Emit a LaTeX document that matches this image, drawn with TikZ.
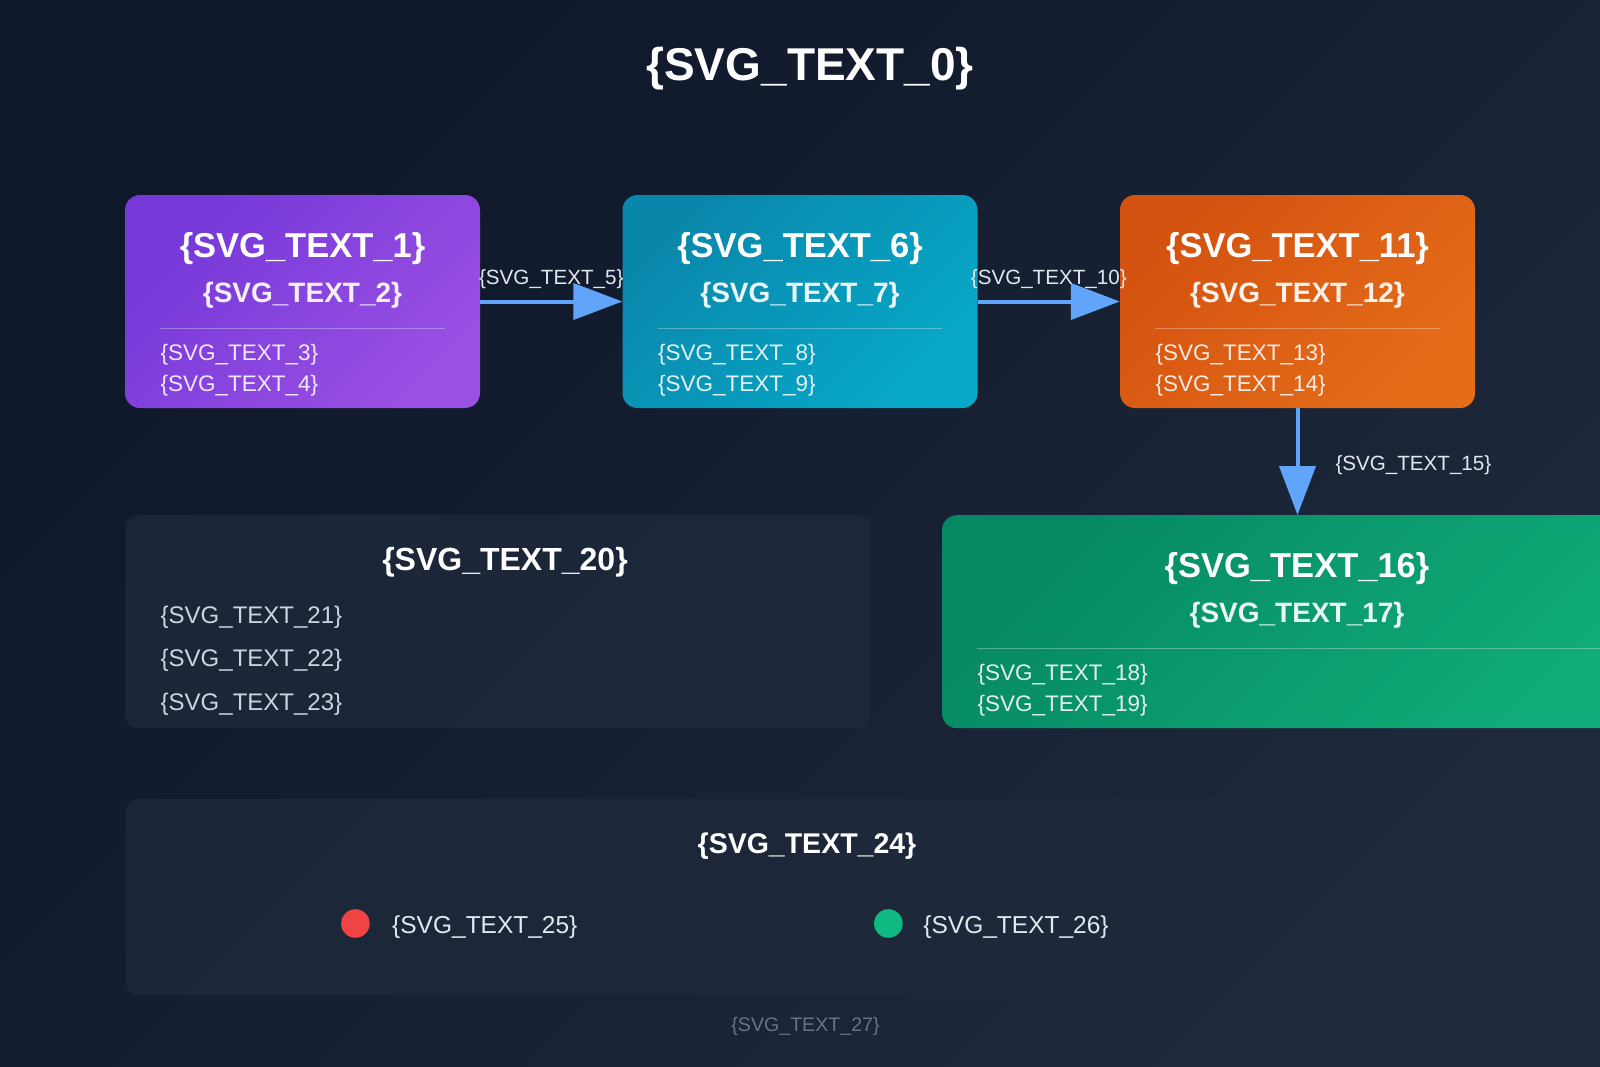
\documentclass[tikz,border=0pt]{standalone}
\usepackage{fontspec}
\setmainfont{Liberation Sans}
\usetikzlibrary{arrows.meta}
\usetikzlibrary{calc}

\definecolor{bgA}{HTML}{0F172A}
\definecolor{bgB}{HTML}{1E293B}
\definecolor{panel}{HTML}{1E293B}
\definecolor{violetA}{HTML}{7538D9}
\definecolor{violetB}{HTML}{9A50E3}
\definecolor{tealA}{HTML}{0987AB}
\definecolor{tealB}{HTML}{08A8C8}
\definecolor{orangeA}{HTML}{D4520F}
\definecolor{orangeB}{HTML}{E56D1A}
\definecolor{greenA}{HTML}{068963}
\definecolor{greenB}{HTML}{10AC79}
\definecolor{flowblue}{HTML}{60A5FA}
\definecolor{softtext}{HTML}{E2E8F0}
\definecolor{mutedtext}{HTML}{CBD5E1}
\definecolor{foot}{HTML}{64748B}
\definecolor{dotred}{HTML}{EF4444}
\definecolor{dotgreen}{HTML}{10B981}

\begin{document}
\begin{tikzpicture}[x=1pt,y=-1pt,
	card/.style={rounded corners=15pt,minimum height=213pt,inner sep=0pt},
	panelbox/.style={rounded corners=12pt,fill=panel,fill opacity=0.8,inner sep=0pt},
	heading/.style={text=white,inner sep=0pt,yshift=-2pt},
	cardtitle/.style={heading,font=\bfseries\fontsize{34.5}{40}\selectfont},
	cardsub/.style={heading,text opacity=0.92,font=\bfseries\fontsize{28}{33}\selectfont},
	carditem/.style={heading,text opacity=0.88,font=\fontsize{22.5}{27}\selectfont,anchor=west},
	divider/.style={draw=white,draw opacity=0.3,line width=1.5pt},
	flow/.style={draw=flowblue,line width=4pt,-{Triangle[length=49pt,width=36pt]}},
	flowlabel/.style={text=softtext,font=\fontsize{20.6}{24}\selectfont,inner sep=0pt},
	panelitem/.style={heading,text=mutedtext,font=\fontsize{24}{28}\selectfont,anchor=west},
	legenditem/.style={heading,text=softtext,font=\fontsize{24.5}{29}\selectfont,anchor=west},
	dot/.style={circle,minimum size=28.6pt,inner sep=0pt}
	]
	% background
	\shade[top color=bgA,bottom color=bgB,shading angle=45] (0,0) rectangle (1600,1066);
	\clip (0,0) rectangle (1600,1066);

	\node[heading,font=\bfseries\fontsize{46}{54}\selectfont] (title) at (810,67) {\{SVG\_TEXT\_0\}};

	% cards
	\foreach \card/\cx/\cy/\cw/\ca/\cb/\ta/\tb/\tc/\td in {
		purple/302.5/301.5/355/violetA/violetB/1/2/3/4,
		teal/800/301.5/355/tealA/tealB/6/7/8/9,
		orange/1297.5/301.5/355/orangeA/orangeB/11/12/13/14,
		green/1297/621.7/710/greenA/greenB/16/17/18/19}{
		\node[card,minimum width=\cw pt,top color=\ca,bottom color=\cb,shading angle=45] (\card) at (\cx,\cy) {};
		\node[cardtitle] (\card-title) at ($(\card.north)+(0,51.5)$) {\{SVG\_TEXT\_\ta\}};
		\node[cardsub] (\card-sub) at ($(\card.north)+(0,98)$) {\{SVG\_TEXT\_\tb\}};
		\draw[divider] ($(\card.north west)+(35.5,133.5)$) -- ($(\card.north east)+(-35.5,133.5)$);
		\node[carditem] (\card-a) at ($(\card.north west)+(35.5,158)$) {\{SVG\_TEXT\_\tc\}};
		\node[carditem] (\card-b) at ($(\card.north west)+(35.5,188.5)$) {\{SVG\_TEXT\_\td\}};
	}

	% flows
	\draw[flow] (purple) -- node[flowlabel,yshift=22.5pt] (flow-a) {\{SVG\_TEXT\_5\}} (teal);
	\draw[flow] (teal) -- node[flowlabel,yshift=22.5pt] (flow-b) {\{SVG\_TEXT\_10\}} (orange);
	\draw[flow] (orange.south) -- node[flowlabel,anchor=west,xshift=36pt,yshift=-4pt] (flow-c) {\{SVG\_TEXT\_15\}} (orange.south |- green.north);

	% notes panel
	\node[panelbox,minimum width=745pt,minimum height=213pt] (notes) at (498,621.7) {};
	\node[heading,font=\bfseries\fontsize{32}{38}\selectfont] (notes-title) at (505,560) {\{SVG\_TEXT\_20\}};
	\node[panelitem] (notes-a) at (160.5,615) {\{SVG\_TEXT\_21\}};
	\node[panelitem] (notes-b) at (160.5,658) {\{SVG\_TEXT\_22\}};
	\node[panelitem] (notes-c) at (160.5,702) {\{SVG\_TEXT\_23\}};

	% legend
	\node[panelbox,minimum width=1348pt,minimum height=196pt] (legend) at (800,897) {};
	\node[heading,font=\bfseries\fontsize{28.5}{34}\selectfont] (legend-title) at (807,844.5) {\{SVG\_TEXT\_24\}};
	\node[dot,fill=dotred] (dot-red) at (355.4,923.5) {};
	\node[legenditem] (legend-red) at (392,925) {\{SVG\_TEXT\_25\}};
	\node[dot,fill=dotgreen] (dot-green) at (888.4,923.5) {};
	\node[legenditem] (legend-green) at (923.2,925) {\{SVG\_TEXT\_26\}};

	\node[heading,text=foot,font=\fontsize{19.6}{23}\selectfont] (footer) at (805.5,1024) {\{SVG\_TEXT\_27\}};
\end{tikzpicture}
\end{document}
